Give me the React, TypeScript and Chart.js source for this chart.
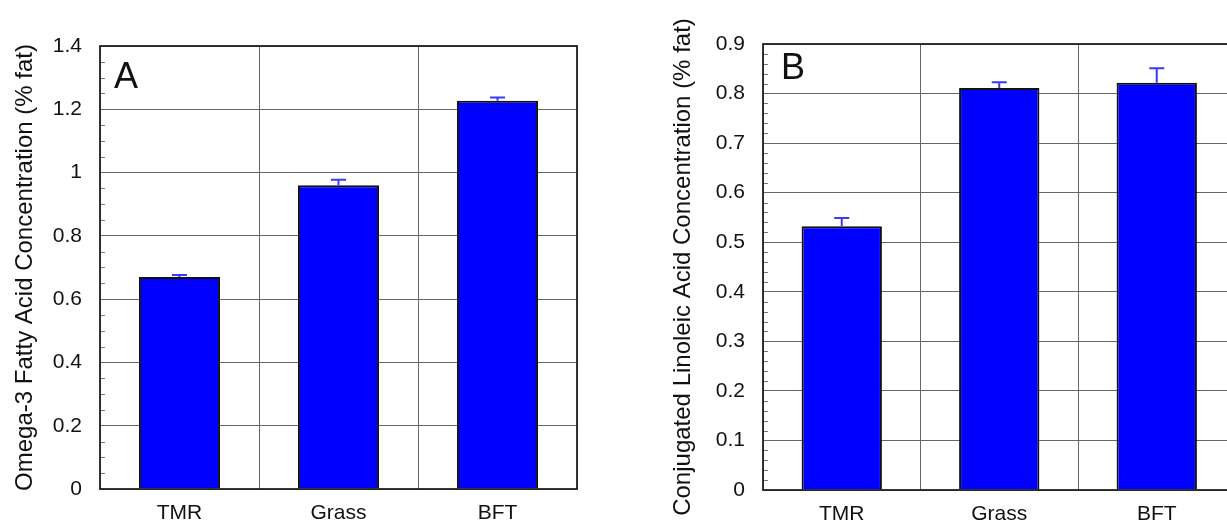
import React, { useEffect, useRef } from "react";
import { Chart, registerables } from "chart.js";

Chart.register(...registerables);

const categories = ["TMR", "Grass", "BFT"];

const omega3Values = [0.67, 0.96, 1.227];
const omega3Errors = [0.006, 0.017, 0.01];
const omega3TickLabels = ["0", "0.2", "0.4", "0.6", "0.8", "1", "1.2", "1.4"];

const claValues = [0.532, 0.811, 0.822];
const claErrors = [0.017, 0.012, 0.029];
const claTickLabels = ["0", "0.1", "0.2", "0.3", "0.4", "0.5", "0.6", "0.7", "0.8", "0.9"];

const FONT = "'Liberation Sans', Arial, Helvetica, sans-serif";

type PanelCfg = {
  values: number[];
  errors: number[];
  tickLabels: string[];
  max: number;
  step: number;
  minorStep: number;
  title: string;
  letter: string;
  letterX: number;
  letterY: number;
  padTop: number;
  padRight: number;
  yWidth: number;
  xHeight: number;
  titlePad: number;
};

function makePanelPlugin(cfg: PanelCfg) {
  return {
    id: "panelDeco" + cfg.letter,
    afterDatasetsDraw(chart: any) {
      const ctx = chart.ctx as CanvasRenderingContext2D;
      const area = chart.chartArea;
      const y = chart.scales.y;
      const meta = chart.getDatasetMeta(0);
      ctx.save();
      // error bars
      ctx.strokeStyle = "#3a3aff";
      ctx.lineWidth = 2;
      cfg.values.forEach((v, i) => {
        const el = meta.data[i];
        if (!el) return;
        const x = el.x;
        const yb = y.getPixelForValue(v);
        const yt = y.getPixelForValue(v + cfg.errors[i]);
        ctx.beginPath();
        ctx.moveTo(x, yb);
        ctx.lineTo(x, yt);
        ctx.moveTo(x - 7.5, yt);
        ctx.lineTo(x + 7.5, yt);
        ctx.stroke();
      });
      // minor ticks
      ctx.strokeStyle = "#777";
      ctx.lineWidth = 1;
      const n = Math.round(cfg.max / cfg.minorStep);
      const per = Math.round(cfg.step / cfg.minorStep);
      for (let k = 1; k < n; k++) {
        if (k % per === 0) continue;
        const py = Math.round(y.getPixelForValue(k * cfg.minorStep)) + 0.5;
        ctx.beginPath();
        ctx.moveTo(area.left, py);
        ctx.lineTo(area.left + 5, py);
        ctx.stroke();
      }
      // frame
      ctx.strokeStyle = "#222";
      ctx.lineWidth = 1.8;
      ctx.strokeRect(area.left, area.top, area.right - area.left, area.bottom - area.top);
      // panel letter
      ctx.fillStyle = "#111";
      ctx.font = `36px ${FONT}`;
      ctx.textAlign = "left";
      ctx.textBaseline = "alphabetic";
      ctx.fillText(cfg.letter, cfg.letterX, cfg.letterY);
      ctx.restore();
    },
  };
}

function Panel({ cfg, left, width }: { cfg: PanelCfg; left: number; width: number }) {
  const ref = useRef<HTMLCanvasElement | null>(null);
  useEffect(() => {
    if (!ref.current) return;
    const chart = new Chart(ref.current, {
      type: "bar",
      data: {
        labels: categories,
        datasets: [
          {
            data: cfg.values,
            backgroundColor: "#0000ff",
            borderColor: "#111",
            borderWidth: 2,
            barPercentage: 0.51,
            categoryPercentage: 1,
          },
        ],
      },
      options: {
        responsive: false,
        animation: false,
        events: [],
        layout: { padding: { top: cfg.padTop, right: cfg.padRight, left: 0, bottom: 0 } },
        plugins: { legend: { display: false }, tooltip: { enabled: false } },
        scales: {
          x: {
            grid: { offset: true, color: "#666", lineWidth: 1, drawTicks: false },
            border: { display: false },
            ticks: { color: "#111", font: { family: FONT, size: 21 }, padding: 12 },
            afterFit: (s: any) => {
              s.height = cfg.xHeight;
            },
          },
          y: {
            min: 0,
            max: cfg.max,
            grid: { color: "#666", lineWidth: 1, drawTicks: false },
            border: { display: false },
            ticks: {
              stepSize: cfg.step,
              color: "#111",
              font: { family: FONT, size: 21 },
              padding: 18,
              callback: (_v: any, i: number) => cfg.tickLabels[i],
            },
            title: {
              display: true,
              text: cfg.title,
              color: "#111",
              font: { family: FONT, size: 24 },
              padding: { top: cfg.titlePad, bottom: 0 },
            },
            afterFit: (s: any) => {
              s.width = cfg.yWidth;
            },
          },
        },
      },
      plugins: [makePanelPlugin(cfg)],
    } as any);
    return () => chart.destroy();
  }, []);
  return (
    <canvas
      ref={ref}
      width={width}
      height={523}
      style={{ position: "absolute", left, top: 0, width, height: 523 }}
    />
  );
}

const leftCfg: PanelCfg = {
  values: omega3Values,
  errors: omega3Errors,
  tickLabels: omega3TickLabels,
  max: 1.4,
  step: 0.2,
  minorStep: 0.05,
  title: "Omega-3 Fatty Acid Concentration (% fat)",
  letter: "A",
  letterX: 114,
  letterY: 88,
  padTop: 46,
  padRight: 23,
  yWidth: 100,
  xHeight: 34,
  titlePad: 11,
};

const rightCfg: PanelCfg = {
  values: claValues,
  errors: claErrors,
  tickLabels: claTickLabels,
  max: 0.9,
  step: 0.1,
  minorStep: 0.02,
  title: "Conjugated Linoleic Acid Concentration (% fat)",
  letter: "B",
  letterX: 781,
  letterY: 79,
  padTop: 44,
  padRight: 4.5,
  yWidth: 103,
  xHeight: 33,
  titlePad: 9,
};

export default function App() {
  return (
    <div
      style={{
        position: "fixed",
        left: 0,
        top: 0,
        width: 1227,
        height: 523,
        overflow: "hidden",
        background: "#fff",
      }}
    >
      <Panel cfg={leftCfg} left={0} width={600} />
      <Panel cfg={{ ...rightCfg, letterX: rightCfg.letterX - 660 }} left={660} width={580} />
    </div>
  );
}
